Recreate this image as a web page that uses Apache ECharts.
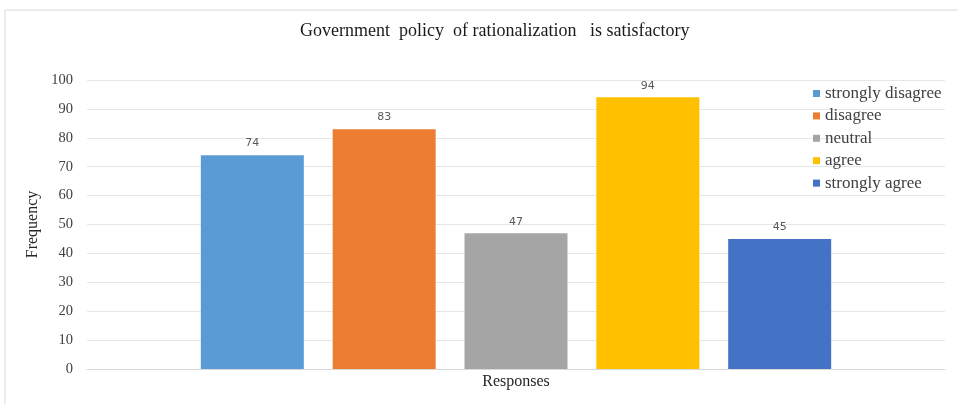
<!DOCTYPE html>
<html><head><meta charset="utf-8">
<script src="https://cdn.jsdelivr.net/npm/echarts@6/dist/echarts.min.js"></script>
<style>html,body{margin:0;padding:0;background:#fff}#c{width:958px;height:404px}</style>
</head><body><div id="c"></div>
<script>
const categories = ['Responses'];
const seriesNames = ['strongly disagree', 'disagree', 'neutral', 'agree', 'strongly agree'];
const seriesValues = [74, 83, 47, 94, 45];
const colors = ['#5B9BD5', '#ED7D31', '#A5A5A5', '#FFC000', '#4472C4'];
const yTicks = { min: 0, max: 100, interval: 10 };

const chart = echarts.init(document.getElementById('c'));
const serif = '"Liberation Serif", "Times New Roman", serif';
chart.setOption({
  animation: false,
  title: {
    text: 'Government  policy  of rationalization   is satisfactory',
    left: 295, top: 17,
    textStyle: { fontFamily: serif, fontSize: 18, fontWeight: 'normal', color: '#1a1a1a' }
  },
  graphic: [{
    type: 'rect', shape: { x: 5, y: 10, width: 960, height: 400 },
    style: { fill: 'none', stroke: '#d9d9d9', lineWidth: 1 }, silent: true, z: -10
  }],
  legend: {
    orient: 'vertical', left: 808, top: 80,
    itemWidth: 7, itemHeight: 7, itemGap: 5.4, icon: 'rect',
    textStyle: { fontFamily: serif, fontSize: 17, color: '#404040' },
    data: seriesNames
  },
  grid: { left: 87, right: 13, top: 80, bottom: 35 },
  xAxis: {
    type: 'category', data: categories,
    name: 'Responses', nameLocation: 'middle', nameGap: 5,
    nameTextStyle: { fontFamily: serif, fontSize: 16, color: '#262626' },
    axisLine: { lineStyle: { color: '#d9d9d9' } },
    axisTick: { show: false }, axisLabel: { show: false }
  },
  yAxis: {
    type: 'value', min: yTicks.min, max: yTicks.max, interval: yTicks.interval,
    name: 'Frequency', nameLocation: 'middle', nameGap: 43, nameRotate: 90,
    nameTextStyle: { fontFamily: serif, fontSize: 16, color: '#262626' },
    axisLabel: { fontFamily: serif, fontSize: 14.5, color: '#404040', margin: 14 },
    splitLine: { lineStyle: { color: '#e6e6e6' } },
    axisLine: { show: false }, axisTick: { show: false }
  },
  series: seriesNames.map((n, i) => ({
    name: n, type: 'bar',
    data: categories.map(() => seriesValues[i]),
    barWidth: 103, barGap: '28%',
    itemStyle: { color: colors[i] },
    label: { show: true, position: 'top', distance: 6, fontSize: 11, color: '#595959', fontFamily: '"DejaVu Sans", sans-serif' }
  }))
});
</script></body></html>
